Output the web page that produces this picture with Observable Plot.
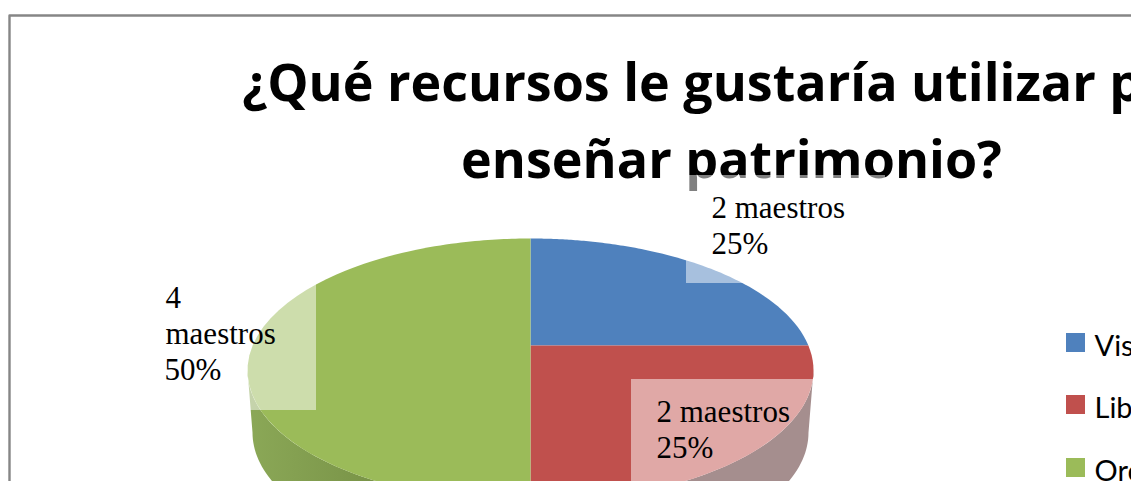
<!DOCTYPE html>
<html><head><meta charset="utf-8">
<style>html,body{margin:0;padding:0;background:#fff}svg{display:block}</style>
<script src="https://cdn.jsdelivr.net/npm/d3@7"></script>
<script src="https://cdn.jsdelivr.net/npm/@observablehq/plot@0.6"></script>
</head><body><div id="chart"></div>
<script>
const categories = ["Visitas", "Libros", "Ordenadores"];
const teachers = [2, 2, 4];
const percents = ["25%", "25%", "50%"];
const colors = ["#4f81bd", "#c0504d", "#9bbb59"];
const titleLines = ["¿Qué recursos le gustaría utilizar para", "enseñar patrimonio?"];

const W = 1137, H = 481;
const pie = {cx: 530, cy: 370, rx: 283, ry: 132, apexY: 345, rx2: 278, cy2: 432};
const total = d3.sum(teachers);

function edge(a) {
  const dx = Math.sin(a), dy = -Math.cos(a);
  const A = (dx / pie.rx) ** 2 + (dy / pie.ry) ** 2;
  const k = pie.apexY - pie.cy;
  const B = 2 * k * dy / pie.ry ** 2;
  const C = (k / pie.ry) ** 2 - 1;
  const t = (-B + Math.sqrt(B * B - 4 * A * C)) / (2 * A);
  return [pie.cx + t * dx, pie.apexY + t * dy];
}

let acc = 0;
const slicePts = [];
categories.forEach((cat, i) => {
  const a0 = acc / total * 2 * Math.PI;
  acc += teachers[i];
  const a1 = acc / total * 2 * Math.PI;
  slicePts.push({cat, x: pie.cx, y: pie.apexY});
  d3.range(0, 91).forEach(s => {
    const [x, y] = edge(a0 + (a1 - a0) * s / 90);
    slicePts.push({cat, x, y});
  });
});

function sidePts(from, to) {
  const pts = [];
  d3.range(0, 61).forEach(s => {
    const a = from + (to - from) * s / 60;
    pts.push({x: pie.cx + pie.rx * Math.cos(a), y: pie.cy + pie.ry * Math.sin(a)});
  });
  d3.range(60, -1, -1).forEach(s => {
    const a = from + (to - from) * s / 60;
    pts.push({x: pie.cx + pie.rx2 * Math.cos(a), y: pie.cy2 + pie.ry * Math.sin(a)});
  });
  return pts;
}

const labelBoxes = [
  {x1: 686, x2: 885, y1: 175, y2: 283},
  {x1: 631, x2: 830, y1: 379, y2: 481},
  {x1: 150, x2: 316, y1: 283, y2: 410}
];
const labelLines = [
  {t: `${teachers[0]} maestros`, x: 711, y: 217},
  {t: percents[0], x: 711, y: 253},
  {t: `${teachers[1]} maestros`, x: 656, y: 421},
  {t: percents[1], x: 656, y: 457},
  {t: `${teachers[2]}`, x: 165, y: 307},
  {t: "maestros", x: 165, y: 343},
  {t: percents[2], x: 164, y: 379}
];
const legendY = [333, 395, 458];
const legend = categories.map((cat, i) => ({cat, y: legendY[i]}));

const plot = Plot.plot({
  width: W, height: H,
  marginTop: 0, marginRight: 0, marginBottom: 0, marginLeft: 0,
  x: {domain: [0, W], range: [0, W], axis: null},
  y: {domain: [0, H], range: [0, H], axis: null},
  color: {domain: categories, range: colors},
  style: {background: "#fff"},
  marks: [
    Plot.line([{x: 9, y: H}, {x: 9, y: 15}, {x: W, y: 15}], {x: "x", y: "y", stroke: "#868686", strokeWidth: 2.4}),
    Plot.text(titleLines, {
      x: [735, 731], y: [100, 177], text: d => d,
      fontFamily: "Open Sans", fontWeight: 700, fontSize: 52, fill: "#000", textAnchor: "middle", lineAnchor: "bottom"
    }),
    Plot.line(sidePts(Math.PI / 2, Math.PI), {x: "x", y: "y", fill: "url(#greenSide)", stroke: null}),
    Plot.line(sidePts(0, Math.PI / 2), {x: "x", y: "y", fill: "#4b1d1d", stroke: null}),
    Plot.line(slicePts, {x: "x", y: "y", z: "cat", fill: "cat", stroke: null}),
    Plot.rect(labelBoxes, {x1: "x1", x2: "x2", y1: "y1", y2: "y2", fill: "#fff", fillOpacity: 0.5}),
    Plot.text(labelLines, {
      x: "x", y: "y", text: "t", textAnchor: "start", lineAnchor: "bottom",
      fontFamily: "Liberation Serif", fontSize: 31, fill: "#000"
    }),
    Plot.rect(legend, {x1: () => 1066, x2: () => 1085, y1: "y", y2: d => d.y + 19, fill: "cat"}),
    Plot.text(legend, {
      x: () => 1094, y: d => d.y + 22, text: "cat", textAnchor: "start", lineAnchor: "bottom",
      fontFamily: "Lato", fontSize: 29, fill: "#000"
    }),
    Plot.rect([0], {x1: () => 1131, x2: () => W, y1: () => 0, y2: () => H, fill: "#fff"})
  ]
});
const defs = d3.select(plot).insert("defs", ":first-child");
const g = defs.append("linearGradient").attr("id", "greenSide")
  .attr("gradientUnits", "userSpaceOnUse").attr("x1", 247).attr("x2", 530).attr("y1", 0).attr("y2", 0);
g.append("stop").attr("offset", 0).attr("stop-color", "#8ba857");
g.append("stop").attr("offset", 0.5).attr("stop-color", "#779146");
document.getElementById("chart").append(plot);
</script></body></html>
